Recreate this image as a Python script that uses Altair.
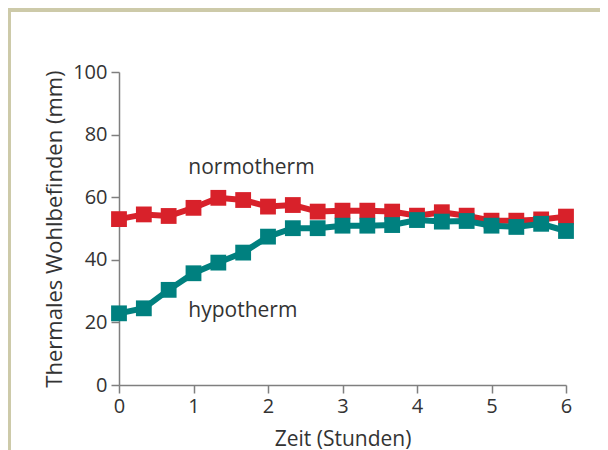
import altair as alt
import pandas as pd

# --- data ---
hours = [0, 1/3, 2/3, 1, 4/3, 5/3, 2, 7/3, 8/3, 3, 10/3, 11/3, 4, 13/3, 14/3, 5, 16/3, 17/3, 6]
normotherm = [53.0, 54.5, 54.0, 56.6, 59.8, 59.1, 57.0, 57.5, 55.4, 55.7,
              55.7, 55.4, 54.1, 55.2, 54.1, 52.5, 52.5, 52.9, 53.8]
hypotherm = [22.9, 24.5, 30.4, 35.7, 39.1, 42.3, 47.4, 50.1, 50.1, 50.9,
             50.9, 51.1, 52.7, 52.2, 52.4, 50.9, 50.5, 51.5, 49.2]
label_text = ["normotherm", "hypotherm"]
label_x = [0.93, 0.93]
label_y = [67.4, 21.8]
x_ticks = [0, 1, 2, 3, 4, 5, 6]
y_ticks = [0, 20, 40, 60, 80, 100]

RED = "#d8212a"
TEAL = "#00807f"
KHAKI = "#cdcaa9"
TEXT = "#333333"
FONT = "Open Sans"

df_n = pd.DataFrame({"t": hours, "v": normotherm})
df_h = pd.DataFrame({"t": hours, "v": hypotherm})
df_lab = pd.DataFrame({"t": label_x, "v": label_y, "txt": label_text})

xs = alt.Scale(domain=[0, 6], nice=False, zero=False)
ys = alt.Scale(domain=[0, 100], nice=False)

x_enc = alt.X("t:Q", scale=xs,
              axis=alt.Axis(values=x_ticks, title="Zeit (Stunden)", format="d",
                            labelFlush=False))
y_enc = alt.Y("v:Q", scale=ys,
              axis=alt.Axis(values=y_ticks, title="Thermales Wohlbefinden (mm)", format="d"))

# thin khaki frame strips (left and top) as in the reference page border
one = pd.DataFrame({"a": [0]})
strip_left = alt.Chart(one).mark_rect(color=KHAKI).encode(
    x=alt.value(-111), x2=alt.value(-108), y=alt.value(-64), y2=alt.value(378))
strip_top = alt.Chart(one).mark_rect(color=KHAKI).encode(
    x=alt.value(-111), x2=alt.value(481), y=alt.value(-64), y2=alt.value(-60))

line_n = alt.Chart(df_n).mark_line(color=RED, strokeWidth=6).encode(x=x_enc, y=y_enc)
pts_n = alt.Chart(df_n).mark_square(color=RED, size=250, opacity=1).encode(x="t:Q", y="v:Q")
line_h = alt.Chart(df_h).mark_line(color=TEAL, strokeWidth=6).encode(x="t:Q", y="v:Q")
pts_h = alt.Chart(df_h).mark_square(color=TEAL, size=250, opacity=1).encode(x="t:Q", y="v:Q")

labels = alt.Chart(df_lab).mark_text(
    align="left", baseline="alphabetic", font=FONT, fontSize=21, color=TEXT
).encode(x="t:Q", y="v:Q", text="txt:N")

chart = alt.layer(
    line_n, strip_left, strip_top, pts_n, line_h, pts_h, labels
).properties(
    width=447, height=313,
    autosize=alt.AutoSizeParams(type="none"),
    padding={"left": 111, "top": 64, "right": 34, "bottom": 65},
    background="white",
).configure_view(
    stroke=None
).configure_axis(
    grid=False,
    domainColor="#7f7f7f", domainWidth=1.5,
    tickColor="#7f7f7f", tickWidth=1.5, tickSize=8,
    labelFont=FONT, labelFontSize=20, labelColor=TEXT,
    titleFont=FONT, titleColor=TEXT, titleFontWeight="normal",
).configure_axisY(
    labelPadding=4, titlePadding=6, titleFontSize=22,
).configure_axisX(
    labelPadding=3, titlePadding=12, titleFontSize=21,
)

chart.save("out.html", embed_options={"renderer": "svg", "actions": False})
